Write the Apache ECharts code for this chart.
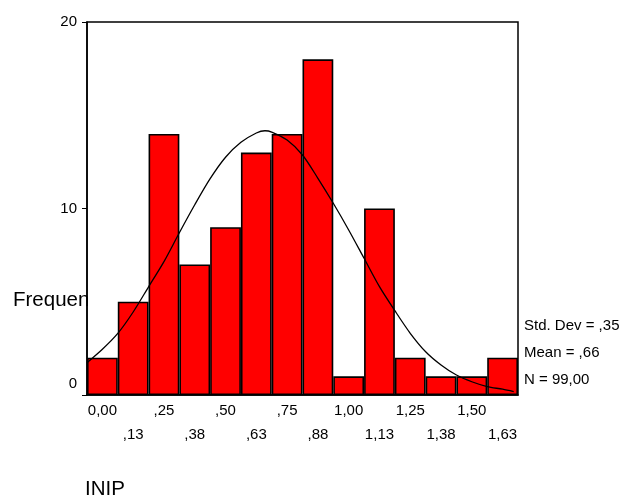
<!DOCTYPE html>
<html>
<head>
<meta charset="utf-8">
<script src="https://cdn.jsdelivr.net/npm/echarts@6/dist/echarts.min.js"></script>
<style>
  html, body { margin: 0; padding: 0; background: #fff; }
  #chart { width: 623px; height: 496px; }
</style>
</head>
<body>
<div id="chart"></div>
<script>
// bin labels (bin centres) and counts
var binLabels = ['0,00', ',13', ',25', ',38', ',50', ',63', ',75', ',88', '1,00', '1,13', '1,25', '1,38', '1,50', '1,63'];
var counts = [2, 5, 14, 7, 9, 13, 14, 18, 1, 10, 2, 1, 1, 2];
// normal curve
var curveX = [-0.0625, 0, 0.0625, 0.125, 0.1875, 0.25, 0.3125, 0.375, 0.4375, 0.5, 0.5625, 0.625, 0.66, 0.6875,
              0.75, 0.8125, 0.875, 0.9375, 1.0, 1.0625, 1.125, 1.1875, 1.25, 1.3125, 1.375, 1.4375, 1.5, 1.5625, 1.625, 1.67];
var curveY = [1.73, 2.45, 3.3, 4.45, 5.8, 7.15, 8.7, 10.2, 11.6, 12.75, 13.55, 14.05, 14.17, 14.1,
              13.67, 12.87, 11.62, 10.28, 8.85, 7.33, 5.81, 4.52, 3.31, 2.32, 1.61, 1.07, 0.71, 0.45, 0.31, 0.18];
var yTicks = [0, 10, 20];
var stats = ['Std. Dev = ,35', 'Mean = ,66', 'N = 99,00'];
var yName = 'Frequency';
var xName = 'INIP';

var font = 'Arial, "Liberation Sans", sans-serif';

var curve = [];
for (var i = 0; i < curveX.length; i++) {
    curve.push([curveX[i], curveY[i]]);
}

var statsText = [];
for (var j = 0; j < stats.length; j++) {
    statsText.push({
        type: 'text',
        left: 524,
        top: 325 + j * 27.2 - 7,
        style: { text: stats[j], font: '15px ' + font, fill: '#000' }
    });
}

var option = {
    animation: false,
    backgroundColor: '#fff',
    grid: {
        left: 87, top: 22, right: 105, bottom: 101,
        show: true,
        borderColor: '#000',
        borderWidth: 1.5
    },
    xAxis: [{
        type: 'category',
        data: binLabels,
        boundaryGap: true,
        axisLine: { lineStyle: { color: '#000', width: 1.5 } },
        axisTick: { alignWithLabel: true, length: 5, lineStyle: { color: '#000', width: 1 } },
        axisLabel: {
            color: '#000',
            fontFamily: font,
            fontSize: 15,
            lineHeight: 24,
            margin: 4,
            interval: 0,
            formatter: function (v, idx) {
                return idx % 2 == 1 ? '\n' + v : v;   // alternate rows
            }
        }
    }, {
        type: 'value',
        min: -0.0625,
        max: 1.6875,
        show: false
    }],
    yAxis: {
        type: 'value',
        min: yTicks[0],
        max: yTicks[yTicks.length - 1],
        interval: 10,
        splitLine: { show: false },
        axisLine: { show: true, onZero: false, lineStyle: { color: '#000', width: 1.5 } },
        axisTick: { show: true, length: 5, lineStyle: { color: '#000', width: 1 } },
        axisLabel: {
            color: '#000',
            fontFamily: font,
            fontSize: 15,
            margin: 10,
            formatter: function (v) {
                return v == 0 ? '{z|0}' : String(v);
            },
            rich: {
                z: { fontFamily: font, fontSize: 15, color: '#000', padding: [0, 0, 22, 0] }
            }
        }
    },
    graphic: [{
        type: 'text',
        left: 13,
        top: 299 - 9,
        z: 0,
        style: { text: yName, font: '20.5px ' + font, fill: '#000' }
    }, {
        type: 'rect',
        z: 1,
        shape: { x: 88, y: 285, width: 429, height: 30 },
        style: { fill: '#fff' }
    }, {
        type: 'text',
        left: 85,
        top: 488 - 9,
        style: { text: xName, font: '20.5px ' + font, fill: '#000' }
    }].concat(statsText),
    series: [{
        name: 'INIP',
        type: 'bar',
        z: 2,
        data: counts,
        barCategoryGap: '0%',
        itemStyle: { color: '#ff0000', borderColor: '#000', borderWidth: 1.6 }
    }, {
        name: 'Normal',
        type: 'line',
        z: 3,
        xAxisIndex: 1,
        data: curve,
        smooth: 0.3,
        showSymbol: false,
        lineStyle: { color: '#000', width: 1.3 }
    }]
};

var chart = echarts.init(document.getElementById('chart'));
chart.setOption(option);
</script>
</body>
</html>
